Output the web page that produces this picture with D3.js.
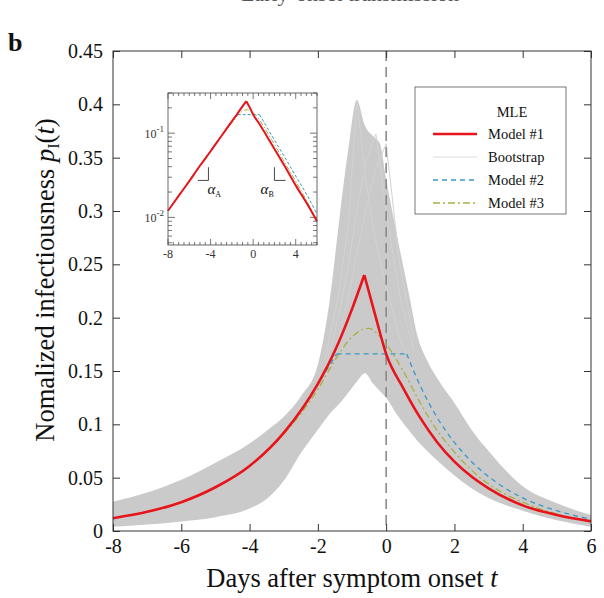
<!DOCTYPE html>
<html>
<head>
<meta charset="utf-8">
<title>Infectiousness profile</title>
<script src="https://d3js.org/d3.v7.min.js"></script>
<style>
    body { margin: 0; background: #fff; }
    svg text { font-family: "Liberation Serif", "Times New Roman", serif; fill: #111; }
</style>
</head>
<body>
<svg id="chart" width="604" height="598"></svg>
<script>
    // ---- data ----
    var xTicks = [-8, -6, -4, -2, 0, 2, 4, 6];
    var yTicks = [0, 0.05, 0.1, 0.15, 0.2, 0.25, 0.3, 0.35, 0.4, 0.45];
    var insetXTicks = [-8, -4, 0, 4];
    var insetYTicks = [0.01, 0.1];

    // Model #1 (MLE, piecewise exponential), peak at index 9
    var m1T = [-8, -7, -6, -5, -4, -3, -2, -1.5, -1, -0.64, -0.3, 0, 0.5, 1, 1.5, 2, 2.5, 3, 4, 5, 6];
    var m1V = [0.012, 0.018, 0.027, 0.041, 0.061, 0.092, 0.138, 0.169, 0.208, 0.240, 0.200, 0.166, 0.134, 0.106, 0.083, 0.065, 0.051, 0.040, 0.024, 0.015, 0.009];
    var m1Kinks = [9];

    // Model #2 (flat top), kinks at index 7 and 8
    var m2T = [-8, -7, -6, -5, -4, -3, -2, -1.45, 0.6, 1, 1.5, 2, 2.5, 3, 4, 5, 6];
    var m2V = [0.012, 0.018, 0.027, 0.041, 0.061, 0.092, 0.138, 0.166, 0.166, 0.136, 0.106, 0.083, 0.065, 0.051, 0.031, 0.019, 0.011];
    var m2Kinks = [7, 8];

    // Model #3 (smooth peak)
    var m3T = [-8, -7, -6, -5, -4, -3, -2.5, -2, -1.5, -1, -0.52, 0, 0.5, 1, 1.5, 2, 2.5, 3, 4, 5, 6];
    var m3V = [0.012, 0.018, 0.027, 0.041, 0.061, 0.091, 0.110, 0.133, 0.160, 0.182, 0.190, 0.175, 0.150, 0.120, 0.094, 0.074, 0.057, 0.044, 0.027, 0.016, 0.009];
    var m3Kinks = [];

    // Bootstrap envelope (upper / lower edge of the grey band)
    var bootT  = [-8, -7, -6, -5, -4, -3.5, -3, -2.5, -2, -1.65, -1.35, -1.1, -0.86, -0.62, -0.38, -0.18, 0, 0.3, 0.7, 0.9, 1.2, 1.6, 2, 2.5, 3, 4, 5, 6];
    var bootHi = [0.0275, 0.036, 0.048, 0.064, 0.082, 0.094, 0.107, 0.126, 0.156, 0.217, 0.298, 0.36, 0.404, 0.38, 0.37, 0.363, 0.33, 0.28, 0.217, 0.185, 0.16, 0.138, 0.12, 0.095, 0.075, 0.042, 0.026, 0.015];
    var bootLo = [0.004, 0.006, 0.009, 0.013, 0.021, 0.030, 0.047, 0.073, 0.095, 0.110, 0.120, 0.130, 0.140, 0.148, 0.138, 0.131, 0.125, 0.110, 0.093, 0.085, 0.075, 0.063, 0.052, 0.040, 0.031, 0.019, 0.010, 0.004];

    // a few single bootstrap curves that stick out near the peak
    var spikeT = [-1.8, -1.4, -1.1, -0.86, -0.6, -0.3, 0, 0.4, 0.8];
    var spikeA = [0.16, 0.22, 0.29, 0.404, 0.33, 0.27, 0.23, 0.18, 0.15];
    var spikeB = [0.15, 0.2, 0.25, 0.3, 0.345, 0.372, 0.3, 0.22, 0.17];
    var spikeC = [0.14, 0.18, 0.22, 0.26, 0.3, 0.34, 0.363, 0.25, 0.18];

    var legendLabels = ["Model #1", "Bootstrap", "Model #2", "Model #3"];

    // ---- layout ----
    var svg = d3.select("#chart");
    var x = d3.scaleLinear().domain([-8, 6]).range([113, 591]);
    var y = d3.scaleLinear().domain([0, 0.45]).range([531, 51]);

    var red = "#e8141b", blue = "#3d97c4", olive = "#a9b043", grey = "#cacaca";

    function piece(T, V, i0, i1) {
        return d3.range(i0, i1 + 1).map(function (i) { return [T[i], V[i]]; });
    }
    function pieces(T, V, kinks) {
        var cuts = [0].concat(kinks).concat([T.length - 1]);
        var out = [];
        for (var k = 0; k < cuts.length - 1; k++) out.push(piece(T, V, cuts[k], cuts[k + 1]));
        return out;
    }

    // cut-off heading at the very top (only its lower edge is in view)
    svg.append("text")
        .attr("x", 350).attr("y", 1)
        .attr("text-anchor", "middle")
        .style("font-size", "22px")
        .style("fill", "#555")
        .text("Early-onset transmission");

    // panel letter
    svg.append("text")
        .attr("x", 8).attr("y", 51)
        .style("font-size", "26px")
        .style("font-weight", "bold")
        .text("b");

    // bootstrap band
    var area = d3.area()
        .x(function (d, i) { return x(bootT[i]); })
        .y0(function (d, i) { return y(bootLo[i]); })
        .y1(function (d, i) { return y(bootHi[i]); })
        .curve(d3.curveMonotoneX);
    svg.append("path")
        .datum(bootT)
        .attr("d", area)
        .attr("fill", grey);

    [spikeA, spikeB, spikeC].forEach(function (V) {
        svg.append("path")
            .datum(spikeT.map(function (t, i) { return [t, V[i]]; }))
            .attr("d", d3.line().x(function (d) { return x(d[0]); }).y(function (d) { return y(d[1]); }))
            .attr("fill", "none")
            .attr("stroke", "#d2d2d2")
            .attr("stroke-width", 1);
    });

    // vertical dashed line at onset
    svg.append("line")
        .attr("x1", x(0)).attr("x2", x(0))
        .attr("y1", y(0.45)).attr("y2", y(0))
        .attr("stroke", "#8a8a8a")
        .attr("stroke-width", 1.6)
        .attr("stroke-dasharray", "10,6");

    function drawModel(g, xs, ys, T, V, kinks, color, width, dash) {
        var line = d3.line()
            .x(function (d) { return xs(d[0]); })
            .y(function (d) { return ys(d[1]); })
            .curve(d3.curveMonotoneX);
        pieces(T, V, kinks).forEach(function (p) {
            g.append("path")
                .datum(p)
                .attr("d", line)
                .attr("fill", "none")
                .attr("stroke", color)
                .attr("stroke-width", width)
                .attr("stroke-dasharray", dash);
        });
    }

    var gMain = svg.append("g");
    drawModel(gMain, x, y, m3T, m3V, m3Kinks, olive, 1.3, "7,3,2,3");
    drawModel(gMain, x, y, m2T, m2V, m2Kinks, blue, 1.3, "5,4");
    drawModel(gMain, x, y, m1T, m1V, m1Kinks, red, 2.6, null);

    // axes (ticks point inward)
    var fmt = function (d) { return String(d); };
    var axB = svg.append("g").attr("transform", "translate(0,531)")
        .call(d3.axisBottom(x).tickValues(xTicks).tickSize(-7).tickPadding(8).tickFormat(fmt));
    var axT = svg.append("g").attr("transform", "translate(0,51)")
        .call(d3.axisTop(x).tickValues(xTicks).tickSize(-7).tickFormat(""));
    var axL = svg.append("g").attr("transform", "translate(113,0)")
        .call(d3.axisLeft(y).tickValues(yTicks).tickSize(-7).tickPadding(10).tickFormat(fmt));
    var axR = svg.append("g").attr("transform", "translate(591,0)")
        .call(d3.axisRight(y).tickValues(yTicks).tickSize(-7).tickFormat(""));
    [axB, axT, axL, axR].forEach(function (a) {
        a.select(".domain").remove();
        a.selectAll("line").attr("stroke", "#333");
        a.selectAll("text").style("font-size", "20px").style("font-family", "Liberation Serif, serif").attr("fill", "#111");
    });
    svg.append("rect")
        .attr("x", 113).attr("y", 51).attr("width", 478).attr("height", 480)
        .attr("fill", "none").attr("stroke", "#333").attr("stroke-width", 1);

    // axis titles
    svg.append("text")
        .attr("x", 352).attr("y", 587)
        .attr("text-anchor", "middle")
        .style("font-size", "26.5px")
        .html('Days after symptom onset <tspan font-style="italic">t</tspan>');

    var yt = svg.append("text")
        .attr("transform", "translate(54,280) rotate(-90)")
        .attr("text-anchor", "middle")
        .style("font-size", "26.5px");
    yt.append("tspan").text("Nomalized infectiousness ");
    yt.append("tspan").attr("font-style", "italic").text("p");
    yt.append("tspan").attr("dy", 5).style("font-size", "16px").text("I");
    yt.append("tspan").attr("dy", -5).text("(");
    yt.append("tspan").attr("font-style", "italic").text("t");
    yt.append("tspan").text(")");

    // ---- inset (log scale) ----
    var xi = d3.scaleLinear().domain([-8, 6]).range([168, 317]);
    var yi = d3.scaleLog().domain([0.0047, 0.3]).range([245, 93]);
    var gIn = svg.append("g");
    gIn.append("rect")
        .attr("x", 168).attr("y", 93).attr("width", 149).attr("height", 152)
        .attr("fill", "#fff");

    var minorX = d3.range(-8, 6.01, 0.5);
    var minorY = [0.005, 0.006, 0.007, 0.008, 0.009, 0.02, 0.03, 0.04, 0.05, 0.06, 0.07, 0.08, 0.09, 0.2, 0.3];
    var tickG = gIn.append("g").attr("stroke", "#555").attr("stroke-width", 0.8);
    minorX.forEach(function (t) {
        var len = insetXTicks.indexOf(t) >= 0 ? 6 : 3;
        tickG.append("line").attr("x1", xi(t)).attr("x2", xi(t)).attr("y1", 245).attr("y2", 245 - len);
        tickG.append("line").attr("x1", xi(t)).attr("x2", xi(t)).attr("y1", 93).attr("y2", 93 + len);
    });
    minorY.concat(insetYTicks).forEach(function (v) {
        var len = insetYTicks.indexOf(v) >= 0 ? 7 : 4;
        tickG.append("line").attr("x1", 168).attr("x2", 168 + len).attr("y1", yi(v)).attr("y2", yi(v));
        tickG.append("line").attr("x1", 317).attr("x2", 317 - len).attr("y1", yi(v)).attr("y2", yi(v));
    });
    insetXTicks.forEach(function (t) {
        gIn.append("text")
            .attr("x", xi(t)).attr("y", 258)
            .attr("text-anchor", "middle")
            .style("font-size", "12px")
            .style("fill", "#333")
            .text(t);
    });
    insetYTicks.forEach(function (v) {
        var tx = gIn.append("text")
            .attr("x", 164).attr("y", yi(v) + 5)
            .attr("text-anchor", "end")
            .style("font-size", "12px")
            .style("fill", "#333");
        tx.append("tspan").text("10");
        tx.append("tspan").attr("dy", -6).style("font-size", "9px").text(Math.round(Math.log10(v)));
    });

    drawModel(gIn, xi, yi, m3T, m3V, m3Kinks, olive, 1, "5,2,1.5,2");
    drawModel(gIn, xi, yi, m2T, m2V, m2Kinks, blue, 1, "3,2");
    drawModel(gIn, xi, yi, m1T, m1V, m1Kinks, red, 2, null);

    gIn.append("rect")
        .attr("x", 168).attr("y", 93).attr("width", 149).attr("height", 152)
        .attr("fill", "none").attr("stroke", "#444").attr("stroke-width", 0.8);

    // slope marks alpha_A and alpha_B
    var slopeMarks = [
        { name: "A", t0: -5.2, t1: -4.2, vLo: 0.0275, vHi: 0.0394, labelT: -4.3 },
        { name: "B", t0: 2.0, t1: 3.05, vLo: 0.0275, vHi: 0.0394, labelT: 0.7 }
    ];
    slopeMarks.forEach(function (m) {
        var vx = m.name === "A" ? m.t1 : m.t0;
        gIn.append("path")
            .attr("d", "M" + xi(vx) + "," + yi(m.vHi) + "L" + xi(vx) + "," + yi(m.vLo) +
                "L" + xi(m.name === "A" ? m.t0 : m.t1) + "," + yi(m.vLo))
            .attr("fill", "none").attr("stroke", "#333").attr("stroke-width", 0.9);
        var lt = gIn.append("text")
            .attr("x", xi(m.labelT)).attr("y", yi(m.vLo) + 14)
            .style("font-size", "15px");
        lt.append("tspan").attr("font-style", "italic").text("\u03b1");
        lt.append("tspan").attr("dy", 3).style("font-size", "8px").text(m.name);
    });

    // ---- legend ----
    var lg = svg.append("g");
    lg.append("rect")
        .attr("x", 415).attr("y", 87).attr("width", 151).attr("height", 127)
        .attr("fill", "#fff").attr("stroke", "#555").attr("stroke-width", 0.8);
    lg.append("text")
        .attr("x", 512).attr("y", 117)
        .attr("text-anchor", "middle")
        .style("font-size", "14.5px")
        .text("MLE");
    var legStyles = [
        { color: red, width: 2.6, dash: null },
        { color: "#dcdcdc", width: 1, dash: null },
        { color: blue, width: 1.3, dash: "5,4" },
        { color: olive, width: 1.3, dash: "7,3,2,3" }
    ];
    legendLabels.forEach(function (lab, i) {
        var yy = 134 + i * 23;
        lg.append("line")
            .attr("x1", 433).attr("x2", 477).attr("y1", yy).attr("y2", yy)
            .attr("stroke", legStyles[i].color)
            .attr("stroke-width", legStyles[i].width)
            .attr("stroke-dasharray", legStyles[i].dash);
        lg.append("text")
            .attr("x", 488).attr("y", yy + 5)
            .style("font-size", "14.5px")
            .text(lab);
    });
</script>
</body>
</html>
